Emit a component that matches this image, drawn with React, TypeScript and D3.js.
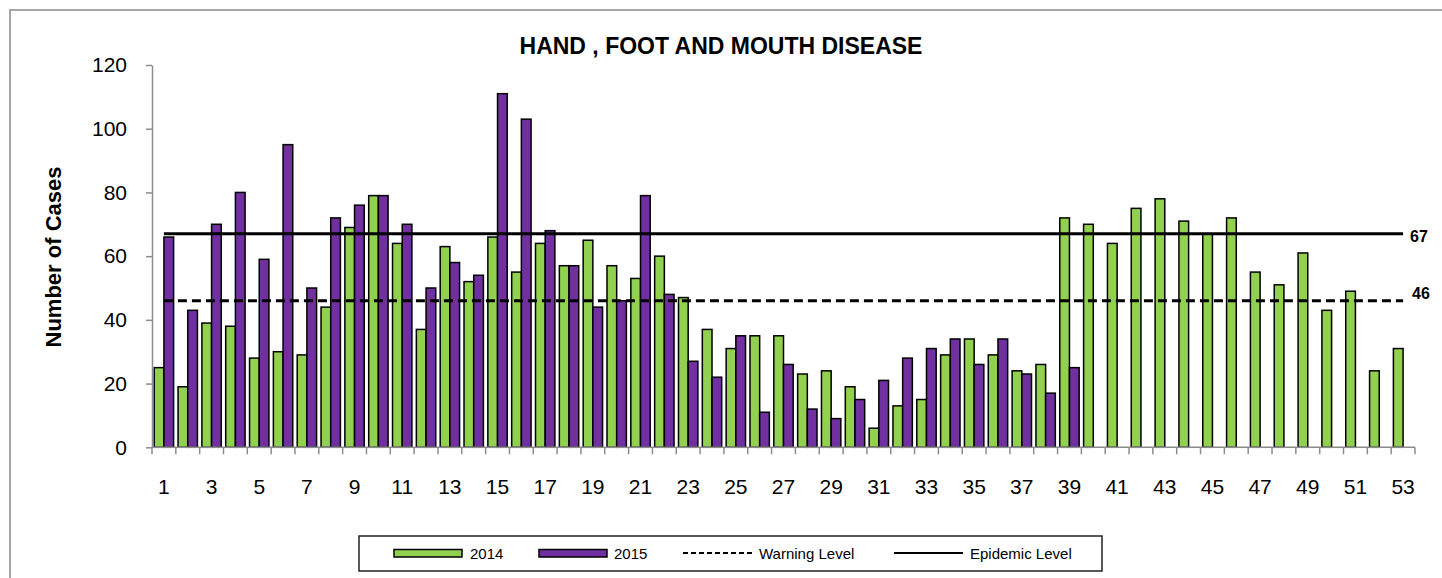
import React, { useEffect, useRef } from 'react'
import * as d3 from 'd3'

// weekly counts
const weeks = [
  1, 2, 3, 4, 5, 6, 7, 8, 9, 10, 11, 12, 13, 14, 15, 16, 17, 18, 19, 20, 21, 22, 23, 24, 25, 26, 27,
  28, 29, 30, 31, 32, 33, 34, 35, 36, 37, 38, 39, 40, 41, 42, 43, 44, 45, 46, 47, 48, 49, 50, 51, 52, 53,
]
const cases2014 = [
  25, 19, 39, 38, 28, 30, 29, 44, 69, 79, 64, 37, 63, 52, 66, 55, 64, 57, 65, 57, 53, 60, 47, 37, 31, 35, 35,
  23, 24, 19, 6, 13, 15, 29, 34, 29, 24, 26, 72, 70, 64, 75, 78, 71, 67, 72, 55, 51, 61, 43, 49, 24, 31,
]
const cases2015 = [
  66, 43, 70, 80, 59, 95, 50, 72, 76, 79, 70, 50, 58, 54, 111, 103, 68, 57, 44, 46, 79, 48, 27, 22, 35, 11, 26,
  12, 9, 15, 21, 28, 31, 34, 26, 34, 23, 17, 25,
]
const seriesNames = ['2014', '2015']
const yTicks = [0, 20, 40, 60, 80, 100, 120]
const warningLevel = 46
const epidemicLevel = 67
const legendLabels = ['2014', '2015', 'Warning Level', 'Epidemic Level']

const FONT = 'Liberation Sans, Arial, sans-serif'
const GREEN = '#92d050'
const PURPLE = '#7030a0'
const AXIS = '#8c8c8c'

export default function App() {
  const ref = useRef<SVGSVGElement>(null)

  useEffect(() => {
    const svg = d3.select(ref.current)
    svg.selectAll('*').remove()

    // chart frame (runs off the right/bottom edge in the original)
    svg.append('rect')
      .attr('x', 10).attr('y', 10)
      .attr('width', 1460).attr('height', 600)
      .attr('fill', 'none')
      .attr('stroke', '#a6a6a6')
      .attr('stroke-width', 2)

    const x = d3.scaleBand<string>()
      .domain(weeks.map(String))
      .range([152, 1415])
      .padding(0)
    const inner = d3.scaleBand<string>()
      .domain(seriesNames)
      .range([0, x.bandwidth()])
      .paddingInner(0)
      .paddingOuter(0.23)
    const y = d3.scaleLinear().domain([0, 120]).range([447.3, 65])

    const series = [
      { name: '2014', values: cases2014, color: GREEN },
      { name: '2015', values: cases2015, color: PURPLE },
    ]

    series.forEach(s => {
      svg.append('g')
        .selectAll('rect')
        .data(s.values)
        .enter().append('rect')
        .attr('x', (d, i) => (x(String(weeks[i])) as number) + (inner(s.name) as number))
        .attr('width', inner.bandwidth())
        .attr('y', d => y(d))
        .attr('height', d => y(0) - y(d))
        .attr('fill', s.color)
        .attr('stroke', '#000')
        .attr('stroke-width', 1.5)
    })

    // y axis
    const yAxis = svg.append('g')
      .attr('transform', 'translate(152,0)')
      .call(d3.axisLeft(y).tickValues(yTicks).tickSize(6).tickSizeOuter(0).tickPadding(19))
    yAxis.select('.domain').attr('stroke', AXIS).attr('stroke-width', 1.5)
    yAxis.selectAll('.tick line').attr('stroke', AXIS).attr('stroke-width', 1.5)
    yAxis.selectAll('.tick text')
      .attr('font-family', FONT)
      .attr('font-size', 21)
      .attr('fill', '#000')

    // x axis: ticks on category boundaries, labels on odd weeks
    const xAxis = svg.append('g')
    const y0 = y(0)
    xAxis.append('line')
      .attr('x1', 152).attr('x2', 1415)
      .attr('y1', y0).attr('y2', y0)
      .attr('stroke', AXIS).attr('stroke-width', 1.5)
    const bounds = weeks.map(w => x(String(w)) as number).concat([x.range()[1]])
    xAxis.selectAll('line.tick')
      .data(bounds)
      .enter().append('line')
      .attr('class', 'tick')
      .attr('x1', d => d).attr('x2', d => d)
      .attr('y1', y0).attr('y2', y0 + 7)
      .attr('stroke', AXIS).attr('stroke-width', 1.5)
    xAxis.selectAll('text')
      .data(weeks.filter(w => w % 2 === 1))
      .enter().append('text')
      .attr('x', d => (x(String(d)) as number) + x.bandwidth() / 2)
      .attr('y', 494)
      .attr('text-anchor', 'middle')
      .attr('font-family', FONT)
      .attr('font-size', 21)
      .text(d => d)

    // warning / epidemic levels, from first to last week centre
    const xStart = (x('1') as number) + x.bandwidth() / 2
    const xEnd = (x('53') as number) + x.bandwidth() / 2
    svg.append('line')
      .attr('x1', xStart).attr('x2', xEnd)
      .attr('y1', y(warningLevel)).attr('y2', y(warningLevel))
      .attr('stroke', '#000').attr('stroke-width', 3)
      .attr('stroke-dasharray', '9,5')
    svg.append('line')
      .attr('x1', xStart).attr('x2', xEnd)
      .attr('y1', y(epidemicLevel)).attr('y2', y(epidemicLevel))
      .attr('stroke', '#000').attr('stroke-width', 3)
    svg.append('text')
      .attr('x', xEnd + 7).attr('y', y(epidemicLevel) + 4)
      .attr('dominant-baseline', 'middle')
      .attr('font-family', FONT).attr('font-size', 16).attr('font-weight', 'bold')
      .text(epidemicLevel)
    svg.append('text')
      .attr('x', xEnd + 9).attr('y', y(warningLevel) - 6)
      .attr('dominant-baseline', 'middle')
      .attr('font-family', FONT).attr('font-size', 16).attr('font-weight', 'bold')
      .text(warningLevel)

    // titles
    svg.append('text')
      .attr('x', 721).attr('y', 54)
      .attr('text-anchor', 'middle')
      .attr('font-family', FONT).attr('font-size', 23).attr('font-weight', 'bold')
      .text('HAND , FOOT AND MOUTH DISEASE')
    svg.append('text')
      .attr('transform', 'translate(61,257) rotate(-90)')
      .attr('text-anchor', 'middle')
      .attr('font-family', FONT).attr('font-size', 22).attr('font-weight', 'bold')
      .text('Number of Cases')

    // legend
    const legend = svg.append('g')
    legend.append('rect')
      .attr('x', 359).attr('y', 536)
      .attr('width', 743).attr('height', 35)
      .attr('fill', '#fff').attr('stroke', '#222').attr('stroke-width', 1.5)
    const items = [
      { x: 394, text: 470, kind: 'bar', color: GREEN },
      { x: 539, text: 614, kind: 'bar', color: PURPLE },
      { x: 683, text: 759, kind: 'dash', color: '#000' },
      { x: 894, text: 970, kind: 'solid', color: '#000' },
    ]
    items.forEach((it, i) => {
      if (it.kind === 'bar') {
        legend.append('rect')
          .attr('x', it.x).attr('y', 549.5)
          .attr('width', 68).attr('height', 7.5)
          .attr('fill', it.color).attr('stroke', '#000').attr('stroke-width', 1.5)
      } else {
        legend.append('line')
          .attr('x1', it.x).attr('x2', it.x + 69)
          .attr('y1', 553).attr('y2', 553)
          .attr('stroke', '#000').attr('stroke-width', 2)
          .attr('stroke-dasharray', it.kind === 'dash' ? '5,3' : null)
      }
      legend.append('text')
        .attr('x', it.text).attr('y', 559)
        .attr('font-family', FONT).attr('font-size', 15)
        .text(legendLabels[i])
    })
  }, [])

  return (
    <svg
      ref={ref}
      width={1442}
      height={578}
      style={{ position: 'absolute', left: 0, top: 0, background: '#fff' }}
    />
  )
}
